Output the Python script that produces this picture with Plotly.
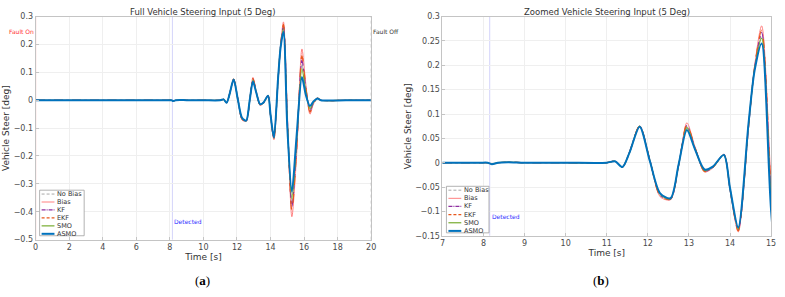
import plotly.graph_objects as go

# ---------------- data ----------------
time_s = [0, 4.0, 7.9, 8.1, 8.2, 8.35, 8.6, 9.0, 10.0, 11.0, 11.2, 11.38, 11.55, 11.8, 12.05,
          12.3, 12.55, 12.75, 12.95, 13.15, 13.38, 13.58, 13.85, 14.0, 14.2, 14.45, 14.6,
          14.77, 15.0, 15.27, 15.55, 15.87, 16.1, 16.35, 16.55, 16.8, 17.0, 18.5, 20]

no_bias = [0, 0, 0, 0, -0.003, 0, 0.001, 0, 0, 0, 0.003, -0.009, 0.020, 0.075, 0.004,
           -0.066, -0.074, -0.004, 0.074, 0.029, -0.016, -0.009, 0.016, -0.054, -0.137,
           0.075, 0.195, 0.261, -0.074, -0.369, -0.162, 0.128, 0.038, -0.034, -0.010,
           0.007, 0, 0, 0]
bias = [0, 0, 0, 0, -0.003, 0, 0.001, 0, 0, 0, 0.003, -0.009, 0.021, 0.076, 0.006,
        -0.070, -0.076, -0.006, 0.082, 0.032, -0.019, -0.011, 0.017, -0.056, -0.142,
        0.070, 0.200, 0.281, -0.045, -0.418, -0.200, 0.184, 0.060, -0.050, -0.015,
        0.008, 0, 0, 0]
kf = [0, 0, 0, 0, -0.003, 0, 0.001, 0, 0, 0, 0.003, -0.009, 0.021, 0.075, 0.005,
      -0.067, -0.075, -0.005, 0.076, 0.030, -0.017, -0.010, 0.017, -0.054, -0.138,
      0.074, 0.196, 0.267, -0.066, -0.382, -0.172, 0.144, 0.044, -0.038, -0.011,
      0.007, 0, 0, 0]
ekf = [0, 0, 0, 0, -0.003, 0, 0.001, 0, 0, 0, 0.003, -0.009, 0.021, 0.076, 0.005,
       -0.068, -0.075, -0.005, 0.078, 0.031, -0.018, -0.010, 0.017, -0.055, -0.140,
       0.072, 0.198, 0.272, -0.058, -0.396, -0.183, 0.159, 0.050, -0.043, -0.013,
       0.008, 0, 0, 0]
smo = [0, 0, 0, 0, -0.003, 0, 0.001, 0, 0, 0, 0.003, -0.009, 0.020, 0.075, 0.004,
       -0.065, -0.074, -0.004, 0.072, 0.028, -0.016, -0.009, 0.016, -0.053, -0.136,
       0.077, 0.193, 0.256, -0.082, -0.355, -0.151, 0.113, 0.032, -0.030, -0.008,
       0.007, 0, 0, 0]
asmo = [0, 0, 0, 0, -0.003, 0, 0.001, 0, 0, 0, 0.003, -0.009, 0.020, 0.074, 0.003,
        -0.063, -0.073, -0.003, 0.067, 0.027, -0.014, -0.008, 0.016, -0.052, -0.133,
        0.080, 0.190, 0.245, -0.098, -0.328, -0.130, 0.083, 0.020, -0.021, -0.005,
        0.006, 0, 0, 0]

series_names = ["No Bias", "Bias", "KF", "EKF", "SMO", "ASMO"]
series_values = [no_bias, bias, kf, ekf, smo, asmo]

fault_on_t = 0
fault_off_t = 20
detected_t = 8.15

# ---------------- styles ----------------
styles = {
    "No Bias": dict(color="#a8a8a8", width=1, dash="dash"),
    "Bias": dict(color="#ff8080", width=1, dash="solid"),
    "KF": dict(color="#8e2fa0", width=1.2, dash="dashdot"),
    "EKF": dict(color="#e8571c", width=1.2, dash="dash"),
    "SMO": dict(color="#77ac30", width=1.2, dash="solid"),
    "ASMO": dict(color="#0072bd", width=2, dash="solid"),
}

W, H = 785, 297
def px_x(p):
    return p / W
def px_y(p):
    return 1 - p / H

fig = go.Figure()
for name, vals in zip(series_names, series_values):
    for xa, ya in (("x", "y"), ("x2", "y2")):
        fig.add_trace(go.Scatter(
            x=time_s, y=vals, mode="lines", name=name, xaxis=xa, yaxis=ya,
            line=dict(shape="spline", smoothing=0.8, **styles[name]),
            showlegend=False))

tickfont = dict(family="DejaVu Sans", size=8, color="#4a4a4a")
titlefont = dict(family="DejaVu Sans", size=9, color="#333333")
axcommon = dict(showgrid=True, gridcolor="#efefef", gridwidth=1, zeroline=False,
                showline=True, linecolor="#c4c4c4", linewidth=1, mirror=True,
                ticks="inside", ticklen=3, tickcolor="#c4c4c4", tickfont=tickfont)

fig.update_layout(
    width=W, height=H, margin=dict(l=0, r=0, t=0, b=0),
    paper_bgcolor="white", plot_bgcolor="white",
    showlegend=False,
    xaxis=dict(domain=[px_x(33), px_x(372)], range=[0, 20], dtick=2, anchor="y",
               title=dict(text="Time [s]", font=titlefont, standoff=2), **axcommon),
    yaxis=dict(domain=[px_y(243), px_y(13)], range=[-0.5, 0.3], dtick=0.1, anchor="x",
               title=dict(text="Vehicle Steer [deg]", font=titlefont, standoff=2), **axcommon),
    xaxis2=dict(domain=[px_x(444), px_x(776)], range=[7, 15], dtick=1, anchor="y2",
                title=dict(text="Time [s]", font=titlefont, standoff=2), **axcommon),
    yaxis2=dict(domain=[px_y(239), px_y(13)], range=[-0.15, 0.3], dtick=0.05, anchor="x2",
                title=dict(text="Vehicle Steer [deg]", font=titlefont, standoff=2), **axcommon),
)

# vertical marker lines
shapes = [
    dict(type="line", xref="x", yref="y domain", x0=fault_on_t, x1=fault_on_t, y0=0, y1=1,
         line=dict(color="#ffb0b0", width=1), layer="below"),
    dict(type="line", xref="x", yref="y domain", x0=fault_off_t, x1=fault_off_t, y0=0, y1=1,
         line=dict(color="#b8b8b8", width=1, dash="dot")),
    dict(type="line", xref="x", yref="y domain", x0=detected_t, x1=detected_t, y0=0, y1=1,
         line=dict(color="#d4d4fa", width=1), layer="below"),
    dict(type="line", xref="x2", yref="y2 domain", x0=detected_t, x1=detected_t, y0=0, y1=1,
         line=dict(color="#d4d4fa", width=1), layer="below"),
]

smallfont = dict(family="DejaVu Sans", size=6)
annotations = [
    dict(text="Full Vehicle Steering Input (5 Deg)", xref="paper", yref="paper",
         x=px_x(202), y=px_y(8), xanchor="center", yanchor="middle", showarrow=False,
         font=dict(family="DejaVu Sans", size=8.5, color="#333")),
    dict(text="Zoomed Vehicle Steering Input (5 Deg)", xref="paper", yref="paper",
         x=px_x(610), y=px_y(8), xanchor="center", yanchor="middle", showarrow=False,
         font=dict(family="DejaVu Sans", size=8.5, color="#333")),
    dict(text="Fault On", xref="x", yref="y", x=fault_on_t, y=0.248, xanchor="right",
         yanchor="middle", showarrow=False, font=dict(color="#ff3030", **smallfont)),
    dict(text="Fault Off", xref="x", yref="y", x=fault_off_t, y=0.248, xanchor="left",
         yanchor="middle", showarrow=False, font=dict(color="#333", **smallfont)),
    dict(text="Detected", xref="x", yref="y", x=detected_t, y=-0.435, xanchor="left",
         yanchor="middle", showarrow=False, font=dict(color="#3030ff", **smallfont)),
    dict(text="Detected", xref="x2", yref="y2", x=detected_t, y=-0.11, xanchor="left",
         yanchor="middle", showarrow=False, font=dict(color="#3030ff", **smallfont)),
    dict(text="(<b>a</b>)", xref="paper", yref="paper", x=px_x(202), y=px_y(285),
         xanchor="center", yanchor="middle", showarrow=False,
         font=dict(family="Liberation Serif", size=13, color="#000")),
    dict(text="(<b>b</b>)", xref="paper", yref="paper", x=px_x(604), y=px_y(285),
         xanchor="center", yanchor="middle", showarrow=False,
         font=dict(family="Liberation Serif", size=13, color="#000")),
]

# manual compact legends (box, line samples, labels)
legend_boxes = [(37, 192, 82, 239), (448, 188, 491, 236)]
for (bx0, by0, bx1, by1) in legend_boxes:
    shapes.append(dict(type="rect", xref="paper", yref="paper",
                       x0=px_x(bx0), x1=px_x(bx1), y0=px_y(by1), y1=px_y(by0),
                       fillcolor="white", line=dict(color="#a0a0a0", width=0.8),
                       layer="above"))
    n = len(series_names)
    step = (by1 - by0 - 6) / (n - 1)
    for i, name in enumerate(series_names):
        yy = by0 + 4 + i * step
        st = styles[name]
        shapes.append(dict(type="line", xref="paper", yref="paper",
                           x0=px_x(bx0 + 2), x1=px_x(bx0 + 15), y0=px_y(yy), y1=px_y(yy),
                           line=dict(color=st["color"], width=st["width"],
                                     dash="3px,2px" if st["dash"] == "dash" else
                                     ("4px,1px,1px,1px" if st["dash"] == "dashdot" else "solid")),
                           layer="above"))
        annotations.append(dict(text=name, xref="paper", yref="paper",
                                x=px_x(bx0 + 16), y=px_y(yy), xanchor="left",
                                yanchor="middle", showarrow=False,
                                font=dict(family="DejaVu Sans", size=6.5, color="#333")))

fig.update_layout(shapes=shapes, annotations=annotations)

fig.write_html("out.html")
